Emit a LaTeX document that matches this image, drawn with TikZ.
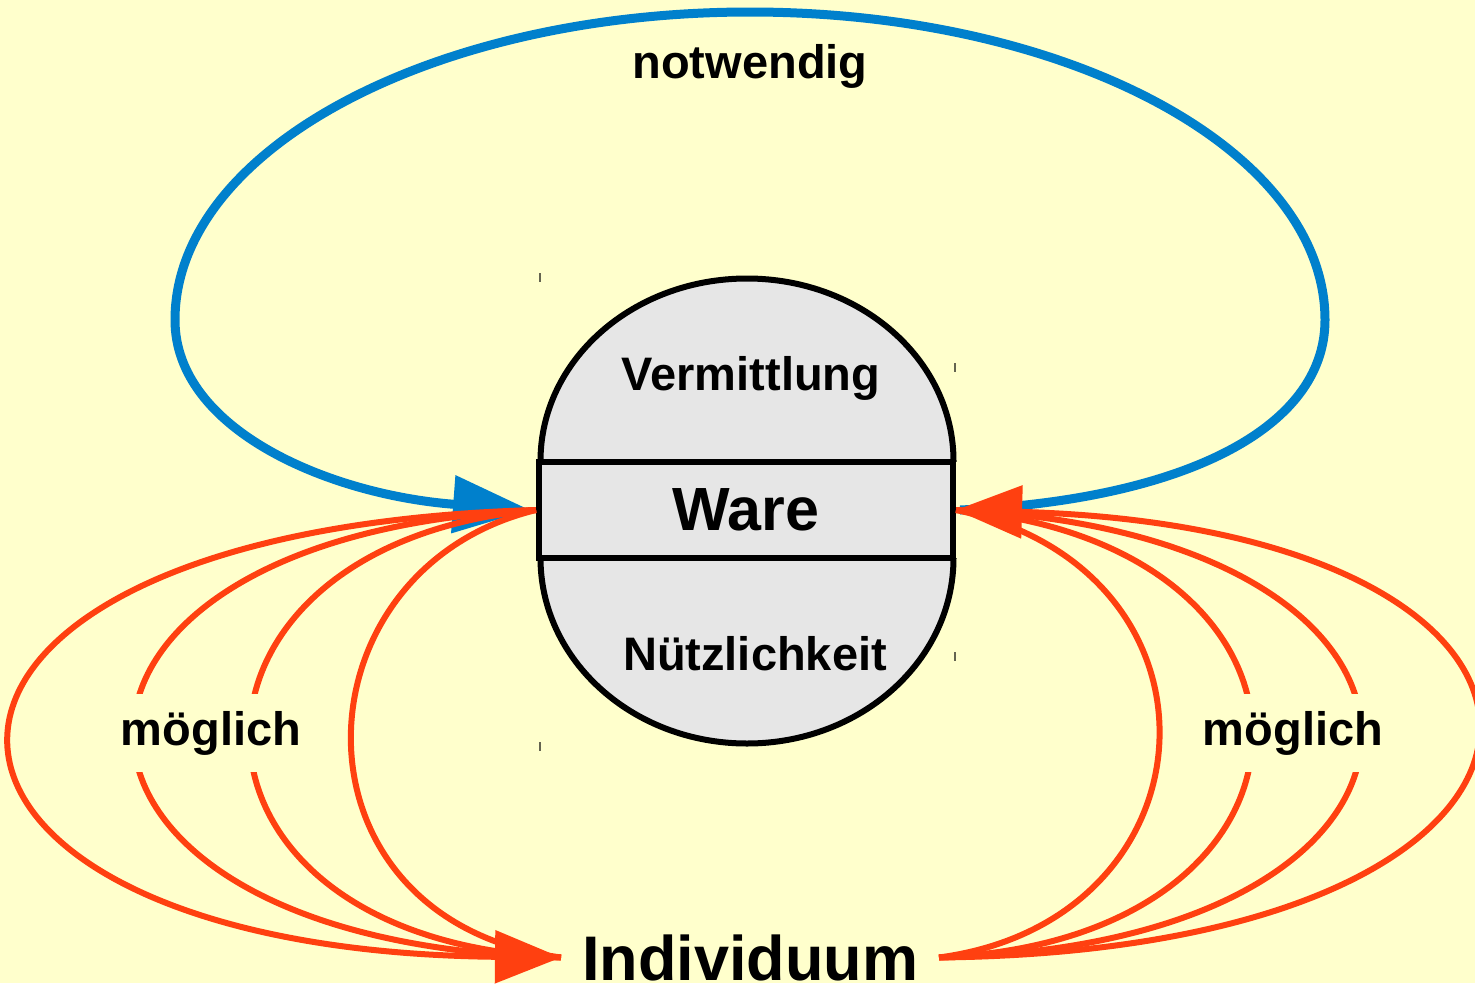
\documentclass[tikz,border=0pt]{standalone}
\usepackage{fontspec}
\setmainfont{Liberation Sans}
\usetikzlibrary{arrows.meta}
\definecolor{paper}{RGB}{255,255,204}
\definecolor{loopblue}{RGB}{0,128,204}
\definecolor{linkred}{RGB}{255,64,16}
\definecolor{shell}{RGB}{230,230,230}
\definecolor{tickgray}{RGB}{100,100,80}

\begin{document}
\begin{tikzpicture}[x=1pt,y=-1pt,
  bluelink/.style={draw=loopblue, line width=9pt},
  redlink/.style={draw=linkred, line width=6pt},
  bluehead/.style={-{Triangle[length=77pt,width=56pt]}},
  redhead/.style={-{Triangle[length=66pt,width=52pt]}},
  label/.style={font=\bfseries\fontsize{47}{50}\selectfont, inner sep=0pt},
  shellline/.style={draw=black, line width=6pt},
  tickmark/.style={draw=tickgray, line width=1.5pt},
]
\useasboundingbox (0,0) rectangle (1475,983);
\fill[paper] (0,0) rectangle (1475,983);

% the sphere: an upper and a lower half-ellipse joined by the band
\fill[shell] (540.5,461) rectangle (953.5,558);
\begin{scope}
  \clip (0,0) rectangle (1475,461);
  \path[shellline, fill=shell] (747,461) ellipse [x radius=206.5pt, y radius=182.5pt];
\end{scope}
\begin{scope}
  \clip (0,558) rectangle (1475,983);
  \path[shellline, fill=shell] (747,558) ellipse [x radius=206.5pt, y radius=185.5pt];
\end{scope}
\node[rectangle, draw=black, fill=shell, line width=6pt, inner sep=0pt,
      minimum width=414pt, minimum height=96pt,
      font=\bfseries\fontsize{61}{64}\selectfont] (ware) at (746,510) {Ware};
\node[label, anchor=base] (verm) at (751,390) {Vermittlung};
\node[label, anchor=base] (nutz) at (755,670) {Nützlichkeit};

% corner marks of the text frame
\draw[tickmark] (540,273) -- (540,282);
\draw[tickmark] (955,363) -- (955,372);
\draw[tickmark] (955,652) -- (955,661);
\draw[tickmark] (540,742) -- (540,751);

% the individual
\node[anchor=base, inner xsep=21pt, inner ysep=0pt, outer sep=0pt,
      font=\bfseries\fontsize{63}{66}\selectfont] (ind) at (750,980) {Individuum};

% necessary loop
\draw[bluelink, bluehead] ([xshift=4pt]ware.east)
  .. controls (1180,500) and (1325,430) .. (1325,320)
  .. controls (1325,150) and (1068,12) .. (750,12)
  .. controls (432,12) and (175,150) .. (175,320)
  .. controls (175,430) and (330,495) .. ([xshift=-6pt]ware.west);
\node[label, anchor=base] (notw) at (750,78) {notwendig};

% possible links, left: from the commodity to the individual
\draw[redlink] (ware.west) .. controls (290,570) and (280,920) .. (ind.west);
\draw[redlink] (ware.west) .. controls (150,545) and (150,940) .. (ind.west);
\draw[redlink] (ware.west) .. controls (-10,535) and (0,945) .. (ind.west);
\draw[redlink, redhead] (ware.west) .. controls (-175,530) and (-150,950) .. (ind.west);

% possible links, right: from the individual to the commodity
\draw[redlink] (ind.east) .. controls (1220,920) and (1240,570) .. (ware.east);
\draw[redlink] (ind.east) .. controls (1350,940) and (1358,545) .. (ware.east);
\draw[redlink] (ind.east) .. controls (1495,945) and (1504,535) .. (ware.east);
\draw[redlink, redhead] (ind.east) .. controls (1640,950) and (1652,530) .. (ware.east);

\node[label, anchor=base, fill=paper, inner ysep=17pt] (mogl) at (211,745) {möglich};
\node[label, anchor=base, fill=paper, inner ysep=17pt] (mogr) at (1293,745) {möglich};
\end{tikzpicture}
\end{document}
